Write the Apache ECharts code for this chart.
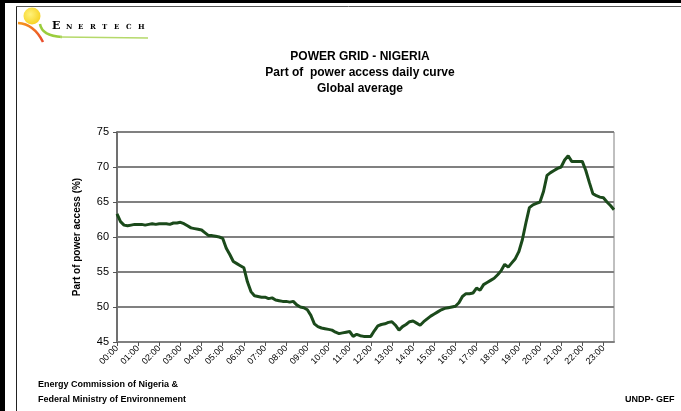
<!DOCTYPE html>
<html>
<head>
<meta charset="utf-8">
<script src="https://cdn.jsdelivr.net/npm/echarts@6/dist/echarts.min.js"></script>
<style>
  html, body { margin: 0; padding: 0; background: #fff; }
  #main { width: 681px; height: 411px; }
</style>
</head>
<body>
<div id="main"></div>
<script>
// 10 minute steps from 00:00 to 23:30
var hours = ['00','01','02','03','04','05','06','07','08','09','10','11',
             '12','13','14','15','16','17','18','19','20','21','22','23'];
var minutes = ['00','10','20','30','40','50'];
var times = [];
for (var h = 0; h < hours.length; h++) {
    for (var m = 0; m < minutes.length; m++) {
        if (h == 23 && m > 3) break;
        times.push(hours[h] + ':' + minutes[m]);
    }
}

// part of power access (%), one row per hour
var access = [
    63.3, 62.2, 61.7, 61.6, 61.7, 61.8,
    61.8, 61.8, 61.7, 61.8, 61.9, 61.8,
    61.9, 61.9, 61.9, 61.8, 62.0, 62.0,
    62.1, 61.9, 61.6, 61.3, 61.2, 61.1,
    61.0, 60.6, 60.2, 60.2, 60.1, 60.0,
    59.8, 58.4, 57.5, 56.5, 56.2, 55.9,
    55.6, 53.6, 52.2, 51.6, 51.5, 51.4,
    51.4, 51.2, 51.3, 51.0, 50.9, 50.8,
    50.8, 50.7, 50.8, 50.3, 50.0, 49.9,
    49.6, 48.8, 47.6, 47.2, 47.0, 46.9,
    46.8, 46.7, 46.4, 46.2, 46.3, 46.4,
    46.5, 45.8, 46.1, 45.9, 45.8, 45.8,
    45.8, 46.6, 47.3, 47.5, 47.6, 47.8,
    47.9, 47.4, 46.7, 47.2, 47.5, 47.9,
    48.0, 47.7, 47.4, 47.9, 48.3, 48.7,
    49.0, 49.3, 49.6, 49.8, 49.9, 50.0,
    50.1, 50.6, 51.5, 51.9, 51.9, 52.0,
    52.7, 52.4, 53.2, 53.5, 53.8, 54.1,
    54.6, 55.2, 56.1, 55.7, 56.3, 56.9,
    57.9, 59.6, 62.0, 64.2, 64.6, 64.8,
    65.0, 66.5, 68.8, 69.2, 69.5, 69.8,
    70.0, 71.0, 71.6, 70.8, 70.8, 70.8,
    70.8, 69.5, 67.8, 66.2, 65.9, 65.7,
    65.6, 65.0, 64.5, 63.9
];

var yMin = 45, yMax = 75, yStep = 5;
var titleLines = ['POWER GRID - NIGERIA', 'Part of  power access daily curve', 'Global average'];
var logoLetters = ['N','E','R','T','E','C','H'];

var font = 'Liberation Sans, Arial, sans-serif';
var myChart = echarts.init(document.getElementById('main'));

var graphics = [
    // page frame
    { type: 'rect', shape: { x: 0, y: 0, width: 681, height: 3 }, style: { fill: '#000' } },
    { type: 'rect', shape: { x: 0, y: 0, width: 5, height: 411 }, style: { fill: '#000' } },
    { type: 'line', shape: { x1: 16.5, y1: 6, x2: 16.5, y2: 411 }, style: { stroke: '#222', lineWidth: 1 } },
    { type: 'line', shape: { x1: 16, y1: 6.5, x2: 681, y2: 6.5 }, style: { stroke: '#555', lineWidth: 1 } },
    // logo
    { type: 'bezierCurve', shape: { x1: 18, y1: 23, cpx1: 34, cpy1: 24, x2: 43, y2: 42 },
      style: { stroke: new echarts.graphic.LinearGradient(0, 0, 1, 1, [
          { offset: 0, color: '#f7a21b' }, { offset: 1, color: '#e8412c' }]), lineWidth: 2.5, fill: null } },
    { type: 'bezierCurve', shape: { x1: 40, y1: 24, cpx1: 42, cpy1: 36, x2: 62, y2: 37 },
      style: { stroke: '#9acd3c', lineWidth: 2.5, fill: null } },
    { type: 'line', shape: { x1: 60, y1: 37, x2: 148, y2: 38 }, style: { stroke: '#b5d96a', lineWidth: 1.5 } },
    { type: 'circle', shape: { cx: 32, cy: 16, r: 8.5 },
      style: { fill: new echarts.graphic.RadialGradient(0.4, 0.4, 0.7, [
          { offset: 0, color: '#fff27a' }, { offset: 1, color: '#f5cf1a' }]) } },
    { type: 'text', left: 52, top: 21, style: { text: 'E', font: 'bold 11px DejaVu Serif', fill: '#000' } }
];
for (var i = 0; i < logoLetters.length; i++) {
    graphics.push({ type: 'text', left: 66 + i * 12, top: 24,
        style: { text: logoLetters[i], font: 'bold 7px DejaVu Serif', fill: '#000' } });
}
graphics.push(
    { type: 'text', left: 38, top: 380, style: { text: 'Energy Commission of Nigeria &', font: 'bold 9px ' + font, fill: '#000' } },
    { type: 'text', left: 38, top: 395, style: { text: 'Federal Ministry of Environnement', font: 'bold 9px ' + font, fill: '#000' } },
    { type: 'text', left: 625, top: 395, style: { text: 'UNDP- GEF', font: 'bold 9px ' + font, fill: '#000' } }
);

option = {
    backgroundColor: '#fff',
    animation: false,
    textStyle: { fontFamily: font },
    title: {
        text: titleLines.join('\n'),
        left: 355,
        top: 44,
        textAlign: 'center',
        textStyle: { fontSize: 12, fontWeight: 'bold', color: '#000', lineHeight: 16, fontFamily: font }
    },
    grid: {
        left: 117, right: 67, top: 132, bottom: 69,
        show: true, borderColor: '#808080', borderWidth: 1
    },
    xAxis: {
        type: 'category',
        data: times,
        boundaryGap: false,
        axisLine: { lineStyle: { color: '#808080', width: 2 } },
        axisTick: { interval: 5, length: 4, lineStyle: { color: '#555' } },
        axisLabel: { interval: 5, rotate: 45, fontSize: 9, color: '#000', margin: 5 }
    },
    yAxis: {
        type: 'value',
        min: yMin,
        max: yMax,
        interval: yStep,
        name: 'Part of power access (%)',
        nameLocation: 'middle',
        nameGap: 35,
        nameTextStyle: { fontSize: 10, fontWeight: 'bold', color: '#000' },
        axisLine: { show: true, lineStyle: { color: '#707070', width: 2 } },
        axisTick: { show: true, length: 4, lineStyle: { color: '#555' } },
        axisLabel: { fontSize: 11, color: '#000', margin: 8 },
        splitLine: { lineStyle: { color: '#808080', width: 2 } }
    },
    color: ['#1b4a1b'],
    series: {
        name: 'access',
        type: 'line',
        data: access,
        showSymbol: false,
        lineStyle: { width: 3 }
    },
    graphic: graphics
};
myChart.setOption(option);
</script>
</body>
</html>
